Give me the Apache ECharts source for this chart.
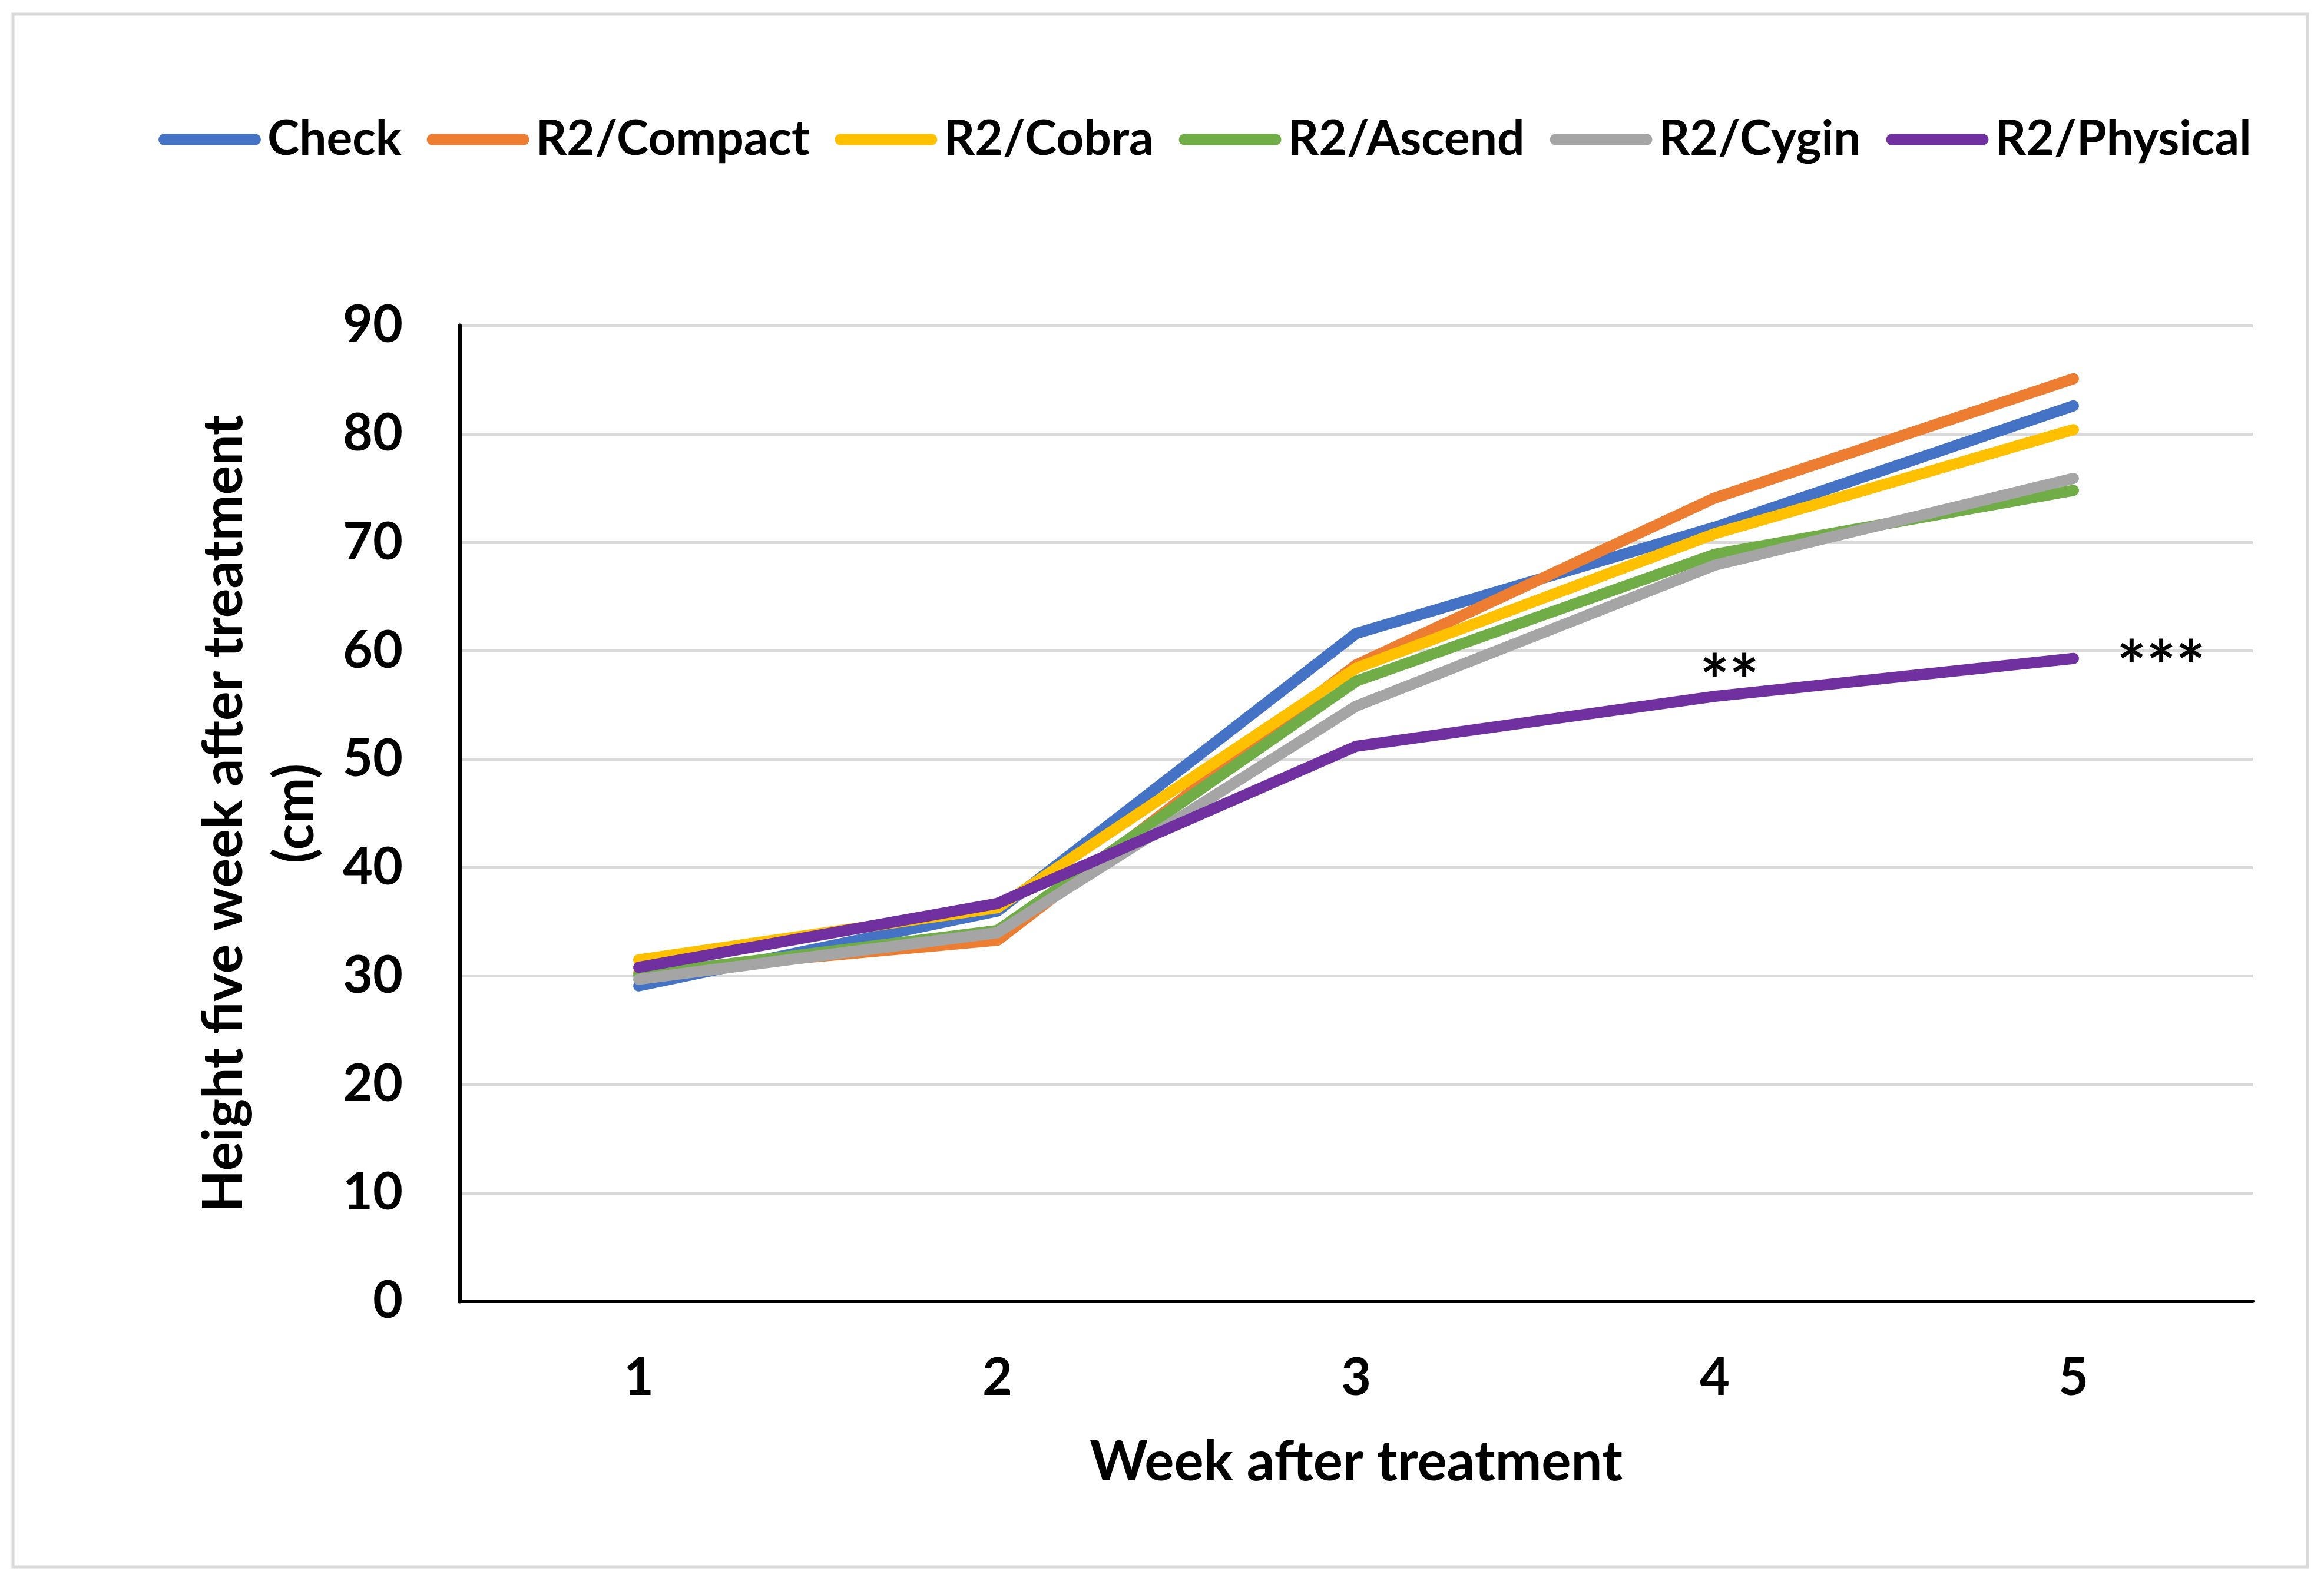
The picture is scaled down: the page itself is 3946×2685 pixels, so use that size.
<!DOCTYPE html>
<html><head><meta charset="utf-8">
<script src="https://cdn.jsdelivr.net/npm/echarts@6/dist/echarts.min.js"></script>
<style>html,body{margin:0;padding:0;background:#fff}#c{width:3946px;height:2685px}</style>
</head><body><div id="c"></div>
<script>
// ---- data ----
const weeks = ['1', '2', '3', '4', '5'];
const seriesNames = ['Check', 'R2/Compact', 'R2/Cobra', 'R2/Ascend', 'R2/Cygin', 'R2/Physical'];
const check    = [29.1, 36.0, 61.6, 71.4, 82.6];
const compact  = [30.3, 33.3, 58.7, 74.1, 85.1];
const cobra    = [31.5, 36.3, 58.4, 70.8, 80.4];
const ascend   = [30.1, 34.2, 57.2, 68.9, 74.8];
const cygin    = [29.7, 34.0, 54.9, 67.9, 75.9];
const physical = [30.8, 36.7, 51.2, 55.8, 59.3];
const yMin = 0, yMax = 90, yStep = 10;
const annotationTexts = ['**', '***'];
const annotationWeeks = ['4', '5'];
const annotationValues = [57.0, 58.3];

// ---- styling ----
const colors = ['#4472C4', '#ED7D31', '#FFC000', '#70AD47', '#A5A5A5', '#7030A0'];
const FONT = 'Lato';
const values = [check, compact, cobra, ascend, cygin, physical];
const annotationOffsets = [[25, 0], [149, 0]];

const chart = echarts.init(document.getElementById('c'));
const series = seriesNames.map((name, i) => {
  const s = {
    name, type: 'line', data: values[i],
    showSymbol: false, symbol: 'none', smooth: false,
    lineStyle: { color: colors[i], width: 19, cap: 'round', join: 'round' },
    itemStyle: { color: colors[i] },
    emphasis: { disabled: true }, animation: false
  };
  if (name === 'R2/Physical') {
    s.markPoint = {
      symbol: 'circle', symbolSize: 0, silent: true, animation: false,
      label: { show: true, position: 'inside', color: '#000', fontFamily: FONT, fontWeight: 'bold', fontSize: 118,
               formatter: p => p.name },
      data: annotationTexts.map((t, k) => ({
        name: t, coord: [annotationWeeks[k], annotationValues[k]],
        label: { offset: annotationOffsets[k] }
      }))
    };
  }
  return s;
});

const pill = 'path://M9.5,0 H164.5 A9.5,9.5 0 0 1 164.5,19 H9.5 A9.5,9.5 0 0 1 9.5,0 Z';

chart.setOption({
  backgroundColor: '#fff',
  animation: false,
  graphic: [{
    type: 'rect', silent: true, z: -10,
    shape: { x: 22, y: 24, width: 3896, height: 2637 },
    style: { fill: 'none', stroke: '#D9D9D9', lineWidth: 5 }
  }],
  legend: {
    data: seriesNames,
    left: 264, top: 191,
    itemWidth: 174, itemHeight: 19, itemGap: 43,
    icon: pill,
    textStyle: { fontFamily: FONT, fontWeight: 'bold', fontSize: 82, color: '#000', padding: [0, 0, 0, 6] },
    selectedMode: false
  },
  grid: { left: 780, right: 121, top: 553, bottom: 475, containLabel: false },
  xAxis: {
    type: 'category', data: weeks, boundaryGap: true,
    name: 'Week after treatment', nameLocation: 'middle', nameGap: 227,
    nameTextStyle: { fontFamily: FONT, fontWeight: 'bold', fontSize: 94, color: '#000' },
    axisLine: { show: true, lineStyle: { color: '#000', width: 6 } },
    axisTick: { show: false },
    axisLabel: { fontFamily: FONT, fontWeight: 'bold', fontSize: 88, color: '#000', margin: 87 },
    splitLine: { show: false }
  },
  yAxis: {
    type: 'value', min: yMin, max: yMax, interval: yStep,
    name: 'Height five week after treatment\n(cm)', nameLocation: 'middle', nameGap: 218, nameRotate: 90,
    nameTextStyle: { fontFamily: FONT, fontWeight: 'bold', fontSize: 93, color: '#000', lineHeight: 121 },
    axisLine: { show: true, lineStyle: { color: '#000', width: 7 } },
    axisTick: { show: false },
    axisLabel: { fontFamily: FONT, fontWeight: 'bold', fontSize: 88, color: '#000', margin: 96 },
    splitLine: { show: true, lineStyle: { color: '#D9D9D9', width: 5 } }
  },
  series
});
</script></body></html>
